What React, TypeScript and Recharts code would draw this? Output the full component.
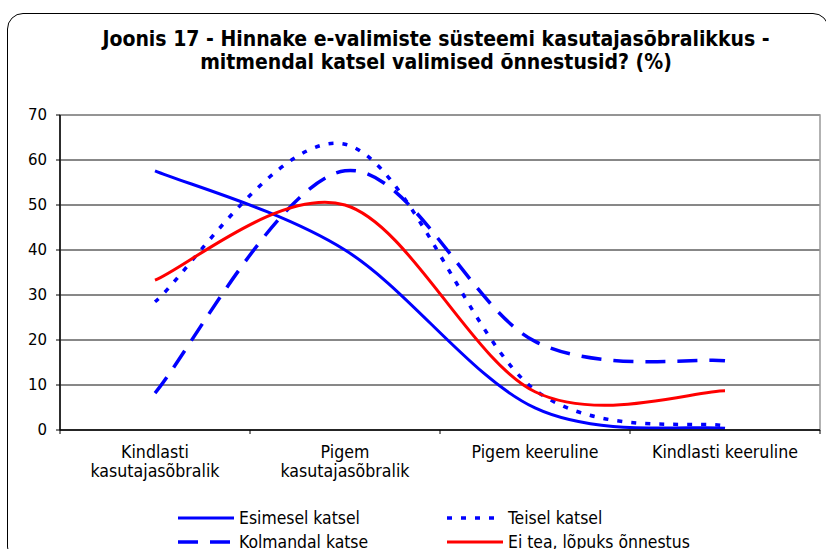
import React from "react";
import {
  LineChart,
  Line,
  XAxis,
  YAxis,
  CartesianGrid,
  ReferenceArea,
  Legend,
} from "recharts";

const categories = [
  "Kindlasti kasutajasõbralik",
  "Pigem kasutajasõbralik",
  "Pigem keeruline",
  "Kindlasti keeruline",
];

const seriesNames = [
  "Esimesel katsel",
  "Teisel katsel",
  "Kolmandal katse",
  "Ei tea, lõpuks õnnestus",
];

const esimesel = [57.6, 40.0, 4.9, 0.4];
const teisel = [28.5, 63.5, 8.9, 0.9];
const kolmandal = [8.2, 57.6, 19.7, 15.4];
const eiTea = [33.3, 50.0, 8.5, 8.7];

const yTicks = [0, 10, 20, 30, 40, 50, 60, 70];

const data = categories.map((name, i) => ({
  idx: i,
  name,
  esimesel: esimesel[i],
  teisel: teisel[i],
  kolmandal: kolmandal[i],
  eiTea: eiTea[i],
}));

// category centres get the labels, the half steps get the tick marks
const xTicks: number[] = [];
for (let i = 0; i <= categories.length * 2; i++) xTicks.push(i / 2 - 0.5);

const FONT = "'DejaVu Sans Condensed', 'DejaVu Sans', sans-serif";

// Excel-like smoothing (Catmull-Rom through the points)
function excelCurve(context: any) {
  let pts: number[][] = [];
  return {
    areaStart() {},
    areaEnd() {},
    lineStart() {
      pts = [];
    },
    point(x: number, y: number) {
      pts.push([+x, +y]);
    },
    lineEnd() {
      if (!pts.length) return;
      context.moveTo(pts[0][0], pts[0][1]);
      for (let i = 0; i < pts.length - 1; i++) {
        const p0 = pts[i - 1] || pts[i];
        const p1 = pts[i];
        const p2 = pts[i + 1];
        const p3 = pts[i + 2] || pts[i + 1];
        context.bezierCurveTo(
          p1[0] + (p2[0] - p0[0]) / 6,
          p1[1] + (p2[1] - p0[1]) / 6,
          p2[0] - (p3[0] - p1[0]) / 6,
          p2[1] - (p3[1] - p1[1]) / 6,
          p2[0],
          p2[1]
        );
      }
    },
  };
}

function CategoryTick(props: any) {
  const { x, y, payload } = props;
  const v = payload.value;
  if (!Number.isInteger(v)) {
    return <line x1={x} x2={x} y1={y - 4} y2={y} stroke="#000" strokeWidth={1} />;
  }
  const label = categories[v] ?? "";
  const words = label.split(" ");
  const lines = label.length > 20 ? [words[0], words.slice(1).join(" ")] : [label];
  return (
    <text x={x} y={y} textAnchor="middle" fontFamily={FONT} fontSize={17.6} fill="#000">
      {lines.map((l, i) => (
        <tspan key={i} x={x} dy={i === 0 ? 24 : 19}>
          {l}
        </tspan>
      ))}
    </text>
  );
}

function LegendContent(props: any) {
  const items = [...(props.payload || [])].sort(
    (a: any, b: any) => seriesNames.indexOf(a.value) - seriesNames.indexOf(b.value)
  );
  return (
    <div
      style={{
        width: 826,
        height: 42,
        position: "relative",
        fontFamily: FONT,
        fontSize: 17.4,
        color: "#000",
      }}
    >
      {items.map((item: any, i: number) => {
        const col = i % 2;
        const row = Math.floor(i / 2);
        const dash = item.payload?.strokeDasharray;
        const sw = item.payload?.strokeWidth || 3;
        return (
          <div
            key={i}
            style={{
              position: "absolute",
              left: col === 0 ? 178 : 447,
              top: row * 24 - 1,
              height: 24,
              display: "flex",
              alignItems: "center",
              whiteSpace: "nowrap",
            }}
          >
            <svg width={56} height={10} style={{ display: "block" }}>
              <line
                x1={0}
                x2={56}
                y1={5}
                y2={5}
                stroke={item.color}
                strokeWidth={sw}
                strokeDasharray={dash}
              />
            </svg>
            <span style={{ marginLeft: 5 }}>{item.value}</span>
          </div>
        );
      })}
    </div>
  );
}

export default function App() {
  return (
    <div style={{ position: "absolute", left: 0, top: 0, width: 826, height: 549, overflow: "hidden", background: "#fff" }}>
      <div
        style={{
          position: "absolute",
          left: 7,
          top: 13,
          width: 820,
          height: 548,
          border: "1.5px solid #000",
          borderRadius: 16,
        }}
      />
      <div
        style={{
          position: "absolute",
          left: 0,
          top: 28,
          width: 872,
          textAlign: "center",
          fontFamily: FONT,
          fontWeight: "bold",
          fontSize: 21,
          lineHeight: "23px",
          color: "#000",
        }}
      >
        Joonis 17 - Hinnake e-valimiste süsteemi kasutajasõbralikkus -
        <br />
        mitmendal katsel valimised õnnestusid? (%)
      </div>
      <div style={{ position: "absolute", left: 0, top: 0 }}>
        <LineChart
          width={826}
          height={549}
          data={data}
          margin={{ top: 115, right: 6, left: 10, bottom: 0 }}
        >
          <CartesianGrid vertical={false} stroke="#111" strokeWidth={1} />
          <ReferenceArea y1={0} y2={70} fill="none" stroke="#999" strokeWidth={1.5} ifOverflow="visible" />
          <XAxis
            type="number"
            dataKey="idx"
            domain={[-0.5, 3.5]}
            allowDataOverflow
            ticks={xTicks}
            interval={0}
            tickLine={false}
            tickSize={4}
            tickMargin={0}
            axisLine={{ stroke: "#000", strokeWidth: 1.5 }}
            tick={<CategoryTick />}
            height={77}
          />
          <YAxis
            domain={[0, 70]}
            ticks={yTicks}
            interval={0}
            width={50}
            tickSize={4}
            tickMargin={9}
            axisLine={{ stroke: "#000", strokeWidth: 1.5 }}
            tickLine={{ stroke: "#000" }}
            tick={{ fill: "#000", fontSize: 15, fontFamily: "'DejaVu Sans', sans-serif" }}
          />
          <Line
            dataKey="esimesel"
            name={seriesNames[0]}
            type={excelCurve as any}
            stroke="#0000ff"
            strokeWidth={3}
            dot={false}
            activeDot={false}
            isAnimationActive={false}
          />
          <Line
            dataKey="teisel"
            name={seriesNames[1]}
            type={excelCurve as any}
            stroke="#0000ff"
            strokeWidth={3.5}
            strokeDasharray="5 9"
            dot={false}
            activeDot={false}
            isAnimationActive={false}
          />
          <Line
            dataKey="kolmandal"
            name={seriesNames[2]}
            type={excelCurve as any}
            stroke="#0000ff"
            strokeWidth={3.5}
            strokeDasharray="20 12"
            dot={false}
            activeDot={false}
            isAnimationActive={false}
          />
          <Line
            dataKey="eiTea"
            name={seriesNames[3]}
            type={excelCurve as any}
            stroke="#ff0000"
            strokeWidth={3}
            dot={false}
            activeDot={false}
            isAnimationActive={false}
          />
          <Legend
            verticalAlign="bottom"
            align="left"
            itemSorter={null as any}
            wrapperStyle={{ left: 0 }}
            content={<LegendContent />}
          />
        </LineChart>
      </div>
    </div>
  );
}
